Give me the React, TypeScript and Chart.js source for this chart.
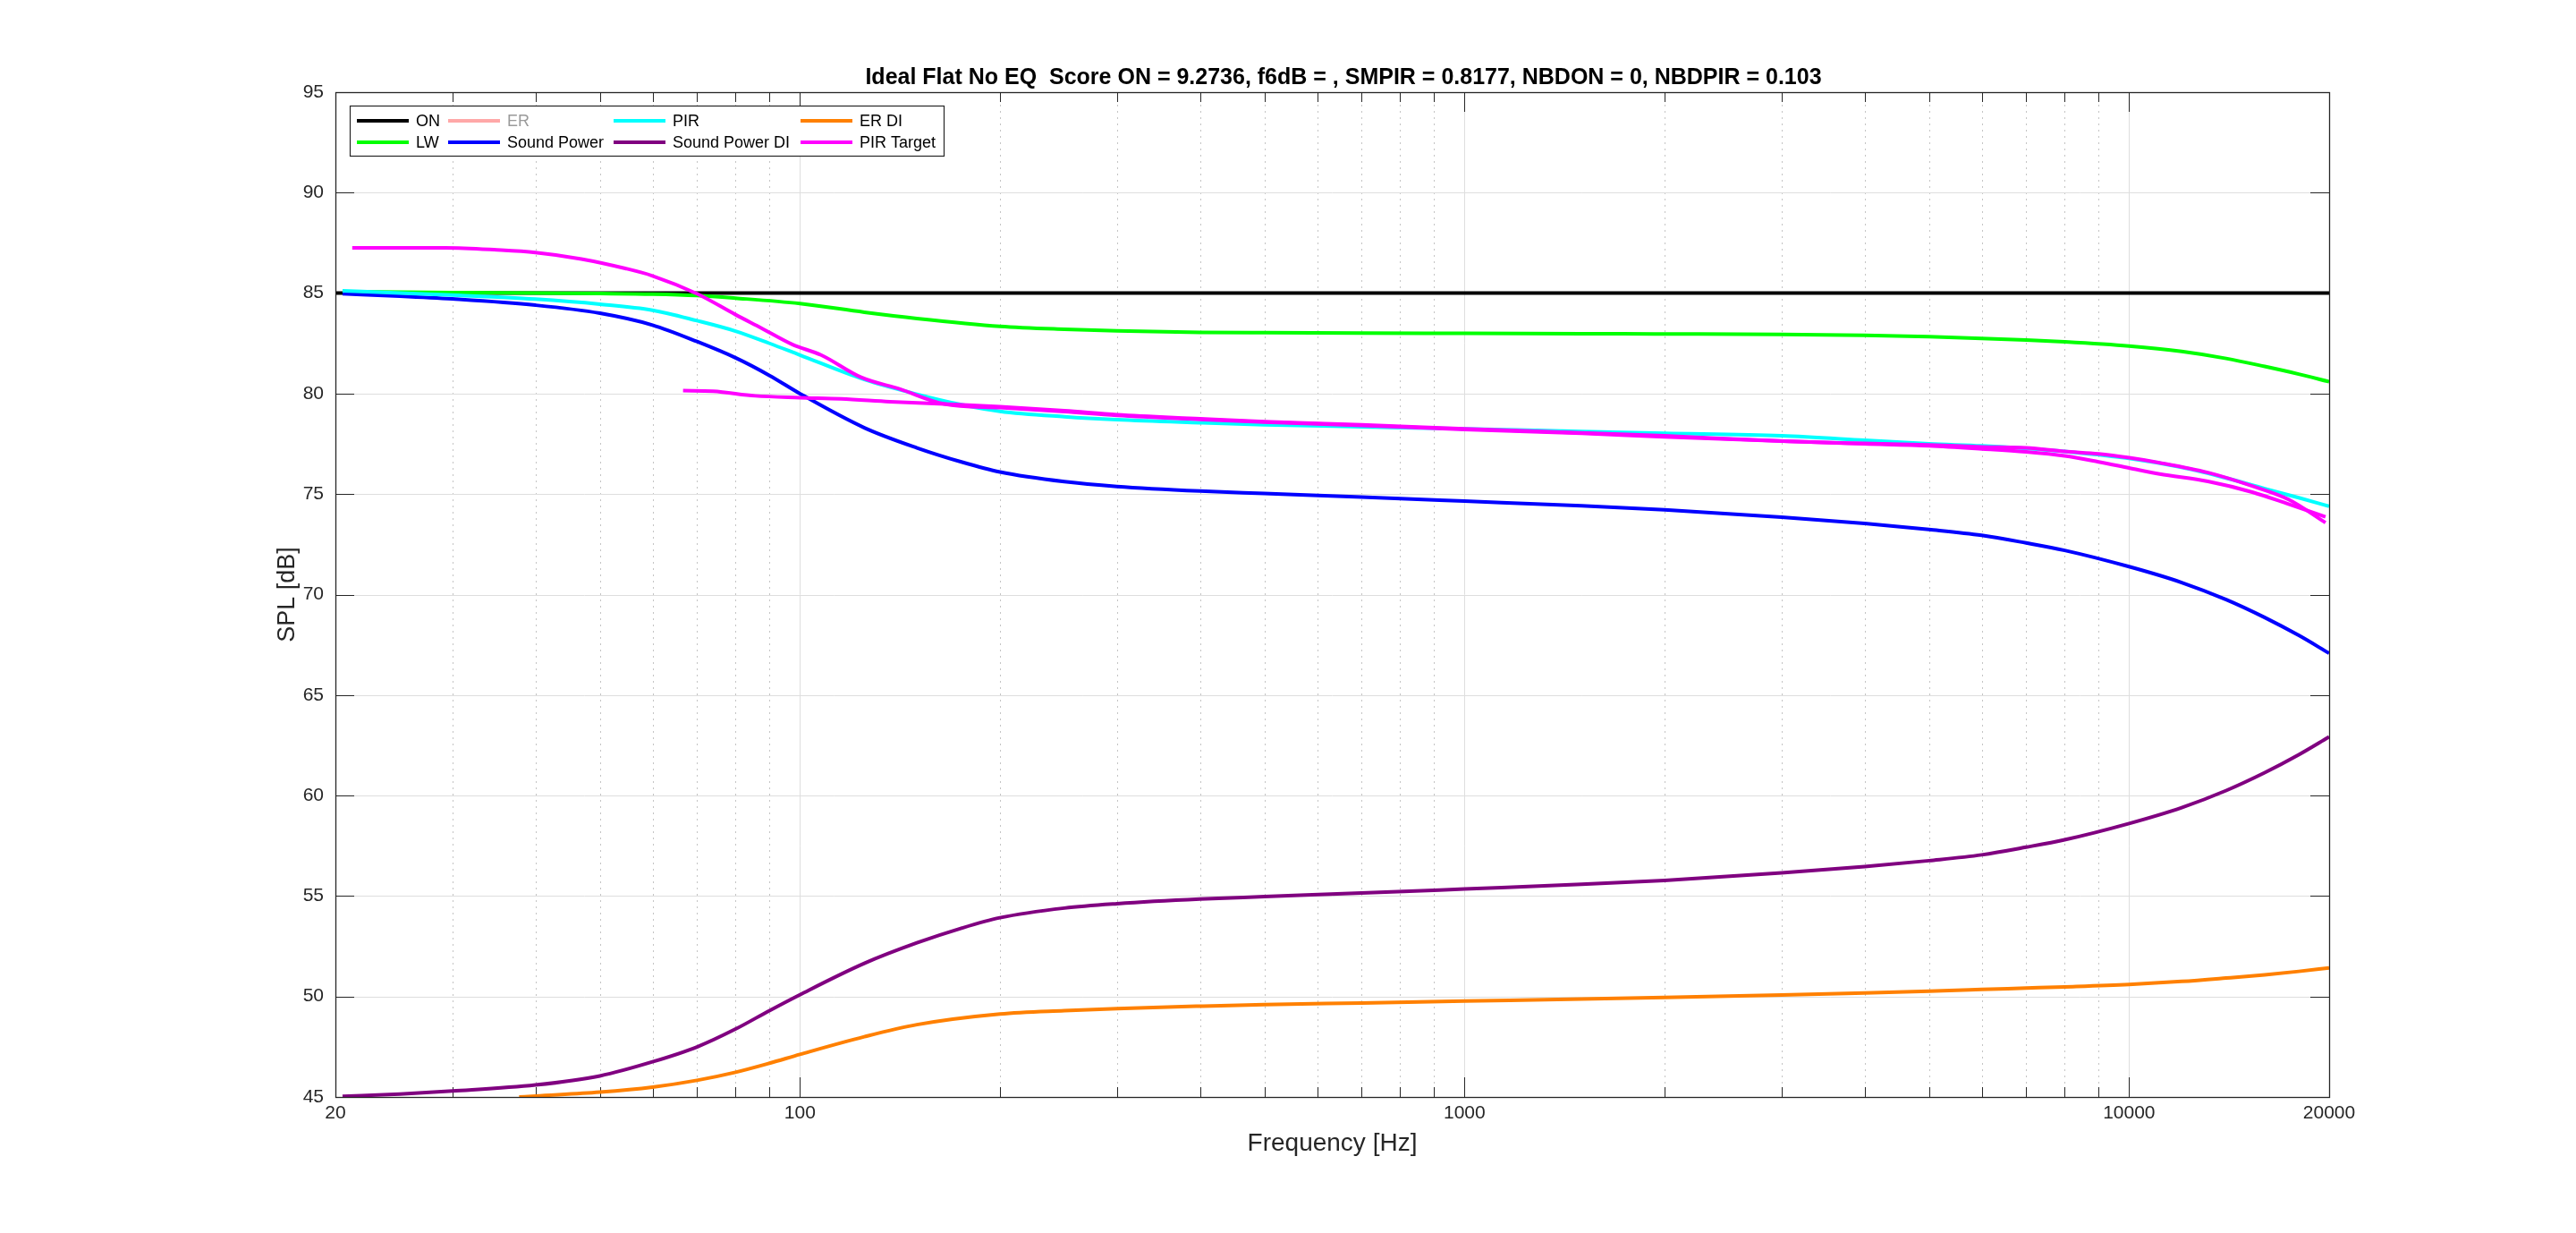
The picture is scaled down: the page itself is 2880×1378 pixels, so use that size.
import React, { useEffect, useRef } from 'react';
import { Chart, registerables } from 'chart.js';

Chart.register(...registerables);

const FONT = '"Liberation Sans", Arial, Helvetica, sans-serif';
const AXIS_COLOR = '#262626';

const TITLE = 'Ideal Flat No EQ  Score ON = 9.2736, f6dB = , SMPIR = 0.8177, NBDON = 0, NBDPIR = 0.103';
const X_LABEL = 'Frequency [Hz]';
const Y_LABEL = 'SPL [dB]';

// axis ticks / grid
const xTickValues = [20, 100, 1000, 10000, 20000];
const xMajorGrid = [100, 1000, 10000];
const xMinorGrid = [30, 40, 50, 60, 70, 80, 90, 200, 300, 400, 500, 600, 700, 800, 900, 2000, 3000, 4000, 5000, 6000, 7000, 8000, 9000];
const yTickValues = [45, 50, 55, 60, 65, 70, 75, 80, 85, 90, 95];

// ON
const onFreq = [20, 20000];
const onSPL = [85, 85];

// LW
const lwFreq = [20.5, 30, 40, 50, 60, 70, 80, 100, 125, 150, 200, 250, 300, 400, 500, 700, 1000, 1500, 2000, 3000, 4000, 5000, 6000, 7000, 8000, 10000, 12000, 14000, 16000, 18000, 20000];
const lwSPL = [85.07, 85.03, 85.0, 84.98, 84.95, 84.88, 84.75, 84.48, 84.05, 83.74, 83.35, 83.2, 83.12, 83.05, 83.03, 83.01, 83.0, 82.98, 82.97, 82.95, 82.9, 82.83, 82.75, 82.67, 82.58, 82.37, 82.1, 81.75, 81.35, 80.97, 80.59];

// ER (not drawn)
const erFreq: number[] = [];
const erSPL: number[] = [];

// PIR
const pirFreq = [20.5, 25, 30, 40, 50, 60, 70, 80, 90, 100, 125, 150, 175, 200, 250, 300, 400, 500, 700, 1000, 1500, 2000, 3000, 4000, 5000, 6000, 7000, 8000, 10000, 12000, 14000, 16000, 18000, 20000];
const pirSPL = [85.12, 85.0, 84.9, 84.7, 84.45, 84.15, 83.63, 83.11, 82.5, 81.92, 80.7, 79.97, 79.45, 79.12, 78.85, 78.7, 78.55, 78.45, 78.35, 78.25, 78.12, 78.03, 77.9, 77.68, 77.5, 77.4, 77.27, 77.12, 76.78, 76.33, 75.8, 75.27, 74.82, 74.39];

// Sound Power
const spFreq = [20.5, 25, 30, 40, 50, 60, 70, 80, 90, 100, 125, 150, 175, 200, 250, 300, 400, 500, 700, 1000, 1500, 2000, 3000, 4000, 5000, 6000, 7000, 8000, 10000, 12000, 14000, 16000, 18000, 20000];
const spSPL = [84.97, 84.85, 84.71, 84.4, 84.0, 83.41, 82.59, 81.78, 80.9, 80.0, 78.3, 77.3, 76.6, 76.1, 75.62, 75.38, 75.15, 75.03, 74.85, 74.65, 74.42, 74.22, 73.85, 73.54, 73.24, 72.95, 72.57, 72.2, 71.39, 70.6, 69.75, 68.86, 67.97, 67.08];

// ER DI
const erdiFreq = [37.8, 40, 50, 60, 70, 80, 90, 100, 125, 150, 200, 250, 300, 400, 500, 700, 1000, 1500, 2000, 3000, 4000, 5000, 6000, 7000, 8000, 10000, 12000, 14000, 16000, 18000, 20000];
const erdiSPL = [45.0, 45.05, 45.24, 45.49, 45.83, 46.23, 46.68, 47.12, 48.0, 48.6, 49.13, 49.3, 49.4, 49.52, 49.6, 49.68, 49.77, 49.87, 49.95, 50.08, 50.18, 50.27, 50.35, 50.42, 50.48, 50.6, 50.75, 50.92, 51.08, 51.25, 51.42];

// Sound Power DI
const spdiFreq = [20.5, 25, 30, 40, 50, 60, 70, 80, 90, 100, 125, 150, 175, 200, 250, 300, 400, 500, 700, 1000, 1500, 2000, 3000, 4000, 5000, 6000, 7000, 8000, 10000, 12000, 14000, 16000, 18000, 20000];
const spdiSPL = [45.03, 45.15, 45.3, 45.6, 46.05, 46.75, 47.49, 48.38, 49.3, 50.09, 51.65, 52.67, 53.4, 53.92, 54.4, 54.62, 54.85, 54.97, 55.15, 55.35, 55.58, 55.78, 56.15, 56.46, 56.76, 57.05, 57.43, 57.8, 58.61, 59.4, 60.25, 61.14, 62.03, 62.92];

// PIR Target (full-range curve)
const targetFreq = [21.2, 25, 29.3, 35, 40, 46.9, 54.6, 60, 70, 80, 87.5, 97.5, 107.6, 123.6, 141.5, 165, 200, 250, 300, 400, 500, 700, 1000, 1500, 2000, 3077, 4000, 5000, 6000, 7000, 8000, 9000, 10000, 11120, 13140, 15320, 17380, 19750];
const targetSPL = [87.25, 87.25, 87.25, 87.15, 87.02, 86.7, 86.23, 85.86, 84.97, 83.93, 83.26, 82.44, 81.92, 80.81, 80.22, 79.48, 79.3, 79.1, 78.92, 78.72, 78.58, 78.42, 78.22, 78.02, 77.85, 77.62, 77.5, 77.4, 77.25, 77.1, 76.9, 76.6, 76.3, 76.0, 75.63, 75.1, 74.5, 73.87];

// PIR Target (second curve, from ~67 Hz)
const target2Freq = [66.7, 74, 85.6, 100, 115.3, 136.6, 165, 200, 250, 300, 400, 500, 700, 1000, 1500, 2000, 3077, 4000, 5000, 6000, 7000, 8000, 9000, 10000, 11120, 13140, 15320, 17380, 19750];
const target2SPL = [80.15, 80.12, 79.89, 79.8, 79.74, 79.6, 79.48, 79.35, 79.15, 78.95, 78.75, 78.6, 78.45, 78.25, 78.05, 77.9, 77.62, 77.52, 77.45, 77.35, 77.3, 77.12, 77.0, 76.81, 76.56, 76.07, 75.4, 74.73, 73.58];

const toPts = (fs: number[], vs: number[]) => fs.map((f, i) => ({ x: f, y: vs[i] }));

// legend: columns of [row1, row2] dataset indices
const LEGEND_COLUMNS = [[0, 1], [2, 4], [3, 5], [6, 7]];

export default function App() {
  const ref = useRef<HTMLCanvasElement | null>(null);

  useEffect(() => {
    if (!ref.current) return;

    const mk = (label: string, fs: number[], vs: number[], color: string, order: number, extra: any = {}) => ({
      label,
      data: toPts(fs, vs),
      borderColor: color,
      backgroundColor: color,
      borderWidth: 4,
      pointRadius: 0,
      fill: false,
      cubicInterpolationMode: 'monotone',
      order,
      ...extra,
    });

    const datasets = [
      mk('ON', onFreq, onSPL, '#000000', 10),
      mk('LW', lwFreq, lwSPL, '#00ff00', 9),
      mk('ER', erFreq, erSPL, '#ffa8a8', 8, { legendTextColor: '#9a9a9a' }),
      mk('PIR', pirFreq, pirSPL, '#00ffff', 7),
      mk('Sound Power', spFreq, spSPL, '#0000ff', 8),
      mk('Sound Power DI', spdiFreq, spdiSPL, '#800080', 6),
      mk('ER DI', erdiFreq, erdiSPL, '#ff8000', 5),
      mk('PIR Target', targetFreq, targetSPL, '#ff00ff', 1),
      mk('PIR Target', target2Freq, target2SPL, '#ff00ff', 2),
    ];

    const framePlugin = {
      id: 'matlabFrame',
      beforeDatasetsDraw(chart: any) {
        const { ctx, chartArea: a, scales } = chart;
        const xs = scales.x;
        const ys = scales.y;
        const line = (x1: number, y1: number, x2: number, y2: number) => {
          ctx.beginPath();
          ctx.moveTo(x1, y1);
          ctx.lineTo(x2, y2);
          ctx.stroke();
        };
        ctx.save();
        ctx.lineWidth = 1;
        // minor x grid (dotted)
        ctx.strokeStyle = '#c4c4c4';
        ctx.setLineDash([2, 5]);
        for (const f of xMinorGrid) {
          const x = Math.round(xs.getPixelForValue(f)) + 0.5;
          line(x, a.top, x, a.bottom);
        }
        ctx.setLineDash([]);
        // major grid (solid)
        ctx.strokeStyle = '#dedede';
        for (const f of xMajorGrid) {
          const x = Math.round(xs.getPixelForValue(f)) + 0.5;
          line(x, a.top, x, a.bottom);
        }
        for (const v of yTickValues.slice(1, -1)) {
          const y = Math.round(ys.getPixelForValue(v)) + 0.5;
          line(a.left, y, a.right, y);
        }
        // ticks (inside)
        ctx.strokeStyle = AXIS_COLOR;
        for (const f of xMajorGrid) {
          const x = Math.round(xs.getPixelForValue(f)) + 0.5;
          line(x, a.bottom, x, a.bottom - 22);
          line(x, a.top, x, a.top + 22);
        }
        for (const f of xMinorGrid) {
          const x = Math.round(xs.getPixelForValue(f)) + 0.5;
          line(x, a.bottom, x, a.bottom - 11);
          line(x, a.top, x, a.top + 11);
        }
        for (const v of yTickValues) {
          const y = Math.round(ys.getPixelForValue(v)) + 0.5;
          line(a.left, y, a.left + 21, y);
          line(a.right, y, a.right - 21, y);
        }
        ctx.restore();
      },
      afterDatasetsDraw(chart: any) {
        const { ctx, chartArea: a } = chart;
        ctx.save();
        ctx.strokeStyle = AXIS_COLOR;
        ctx.lineWidth = 1.3;
        ctx.strokeRect(Math.round(a.left) + 0.5, Math.round(a.top) + 0.5, Math.round(a.right - a.left), Math.round(a.bottom - a.top));
        ctx.restore();
      },
      afterDraw(chart: any) {
        const { ctx } = chart;
        ctx.save();
        // title
        ctx.fillStyle = '#000000';
        ctx.font = `bold 25px ${FONT}`;
        ctx.textAlign = 'center';
        ctx.textBaseline = 'alphabetic';
        ctx.fillText(TITLE, 1502, 94);

        // legend
        const boxL = 391, boxT = 118, boxR = 1055, boxB = 174;
        ctx.fillStyle = '#ffffff';
        ctx.fillRect(boxL, boxT, boxR - boxL, boxB - boxT);
        ctx.strokeStyle = AXIS_COLOR;
        ctx.lineWidth = 1.2;
        ctx.strokeRect(boxL + 0.5, boxT + 0.5, boxR - boxL, boxB - boxT);
        const colX = [399, 501, 686, 895];
        const rowY = [135, 159];
        ctx.font = `18px ${FONT}`;
        ctx.textAlign = 'left';
        ctx.textBaseline = 'middle';
        LEGEND_COLUMNS.forEach((col, ci) => {
          col.forEach((di, ri) => {
            const ds: any = chart.data.datasets[di];
            const x = colX[ci];
            const y = rowY[ri];
            ctx.strokeStyle = ds.borderColor;
            ctx.lineWidth = 4;
            ctx.beginPath();
            ctx.moveTo(x, y);
            ctx.lineTo(x + 58, y);
            ctx.stroke();
            ctx.fillStyle = ds.legendTextColor || '#000000';
            ctx.fillText(ds.label, x + 66, y + 1);
          });
        });
        ctx.restore();
      },
    };

    const chart = new Chart(ref.current, {
      type: 'line',
      data: { datasets: datasets as any },
      options: {
        animation: false,
        responsive: false,
        maintainAspectRatio: false,
        layout: { padding: { top: 103, right: 276, left: 0, bottom: 0 } },
        plugins: {
          legend: { display: false },
          title: { display: false },
          tooltip: { enabled: false },
        },
        scales: {
          x: {
            type: 'logarithmic',
            min: 20,
            max: 20000,
            grid: { display: false, drawTicks: false },
            border: { display: false },
            afterBuildTicks: (scale: any) => {
              scale.ticks = xTickValues.map((v) => ({ value: v }));
            },
            afterFit: (scale: any) => {
              scale.height = 152;
            },
            ticks: {
              autoSkip: false,
              maxRotation: 0,
              minRotation: 0,
              padding: 6,
              color: AXIS_COLOR,
              font: { family: FONT, size: 21 },
              callback: (v: any) => String(v),
            },
            title: {
              display: true,
              text: X_LABEL,
              color: AXIS_COLOR,
              font: { family: FONT, size: 28 },
              padding: { top: 0, bottom: 83 },
            },
          },
          y: {
            type: 'linear',
            min: 45,
            max: 95,
            grid: { display: false, drawTicks: false },
            border: { display: false },
            afterFit: (scale: any) => {
              scale.width = 375;
            },
            ticks: {
              stepSize: 5,
              padding: 13,
              color: AXIS_COLOR,
              font: { family: FONT, size: 21 },
              callback: (v: any) => String(v),
            },
            title: {
              display: true,
              text: Y_LABEL,
              color: AXIS_COLOR,
              font: { family: FONT, size: 27 },
              padding: { top: 305, bottom: 0 },
            },
          },
        },
      } as any,
      plugins: [framePlugin],
    });

    return () => chart.destroy();
  }, []);

  return (
    <div style={{ position: 'absolute', left: 0, top: 0, width: 2880, height: 1378, background: '#ffffff' }}>
      <canvas ref={ref} width={2880} height={1378} style={{ display: 'block', width: 2880, height: 1378 }} />
    </div>
  );
}
